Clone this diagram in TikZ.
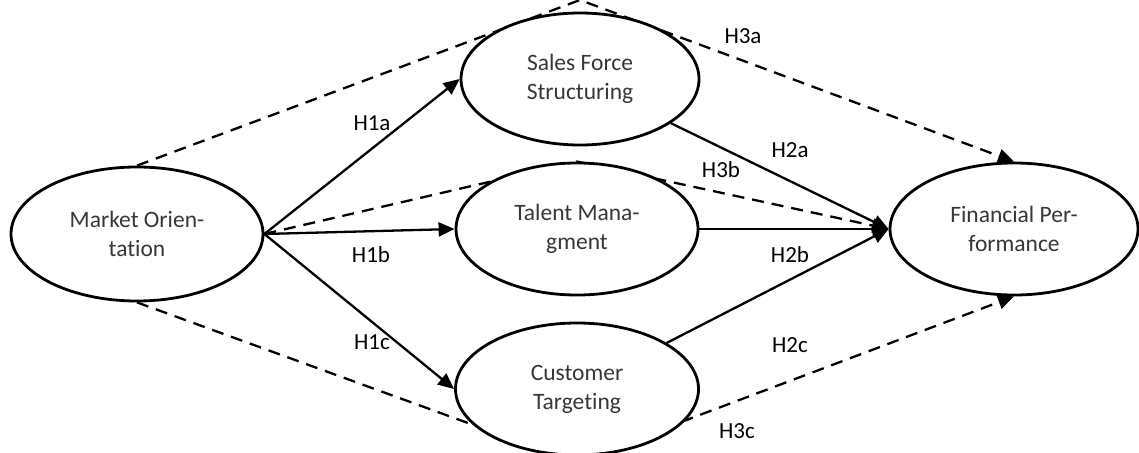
\documentclass[tikz,border=0pt]{standalone}
\usepackage{fontspec}
\setmainfont{Carlito}[Ligatures=NoCommon]
\usetikzlibrary{arrows.meta,backgrounds,shapes.geometric}
\definecolor{txt}{RGB}{55,55,55}
\begin{document}
\begin{tikzpicture}[x=1pt,y=-1pt,
 ell/.style={ellipse,draw=black,line width=2.8pt,fill=white,inner sep=0pt,align=center,text=txt,font=\fontsize{23.5}{29}\selectfont},
 lbl/.style={font=\fontsize{23}{28}\selectfont,text=black,inner sep=0pt},
 arr/.style={line width=2.3pt,-{Triangle[length=16pt,width=14pt]}},
 darr/.style={arr,dash pattern=on 12pt off 8pt}]
\useasboundingbox (0,0) rectangle (1139,452);
\node[ell,minimum width=252pt,minimum height=134pt] (mo) at (137,234) {Market Orien-\\tation};
\node[ell,minimum width=238pt,minimum height=132pt] (sfs) at (580,79) {Sales Force\\Structuring};
\node[ell,minimum width=242pt,minimum height=132pt] (tm) at (577,229) {Talent Mana-\\gment};
\node[ell,minimum width=243pt,minimum height=132pt] (ct) at (577,389) {Customer\\Targeting};
\node[ell,minimum width=248pt,minimum height=132pt] (fp) at (1014,229) {Financial Per-\\formance};
\coordinate (topapex) at (580,0);
\coordinate (botapex) at (575,462);
\begin{pgfonlayer}{background}
\draw[arr] (mo.east) -- (sfs.west);
\draw[arr] (mo.east) -- (tm.west);
\draw[arr] (mo.east) -- (ct.west);
\draw[arr] (sfs) -- (fp.west);
\draw[arr] (tm.east) -- (fp.west);
\draw[arr] (ct) -- (fp.west);
\draw[darr] (mo.north) -- (topapex) -- (fp.north);
\draw[darr] (mo.east) -- (tm.north) -- (fp.west);
\draw[darr] (mo.south) -- (botapex) -- (fp.south);
\end{pgfonlayer}
\node[lbl] (h1a) at (372,123) {H1a};
\node[lbl] (h1b) at (371,255) {H1b};
\node[lbl] (h1c) at (372,342) {H1c};
\node[lbl] (h2a) at (790,150) {H2a};
\node[lbl] (h2b) at (790,255) {H2b};
\node[lbl] (h2c) at (790,345) {H2c};
\node[lbl] (h3a) at (743,36) {H3a};
\node[lbl] (h3b) at (721,170) {H3b};
\node[lbl] (h3c) at (737,431) {H3c};
\end{tikzpicture}
\end{document}
